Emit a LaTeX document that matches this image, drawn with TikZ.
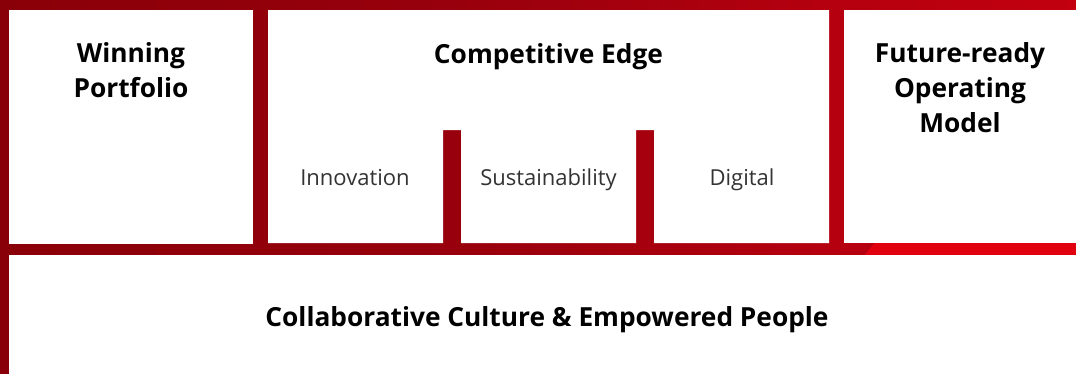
\documentclass[tikz,border=0pt]{standalone}
\usepackage{fontspec}
\setmainfont{Open Sans}

\definecolor{redA}{HTML}{8A0008}
\definecolor{redB}{HTML}{97000C}
\definecolor{redC}{HTML}{B5000F}
\definecolor{redD}{HTML}{C2000F}
\definecolor{redBright}{HTML}{E0000F}
\definecolor{subgray}{HTML}{333333}

% horizontal crimson band; 25bp..75bp spans the filled path
\pgfdeclarehorizontalshading{crimson}{100bp}{%
  color(0bp)=(redA); color(25bp)=(redA); color(45.9bp)=(redB);
  color(63.6bp)=(redC); color(75bp)=(redD); color(100bp)=(redD)}

\tikzset{
  panel/.style={fill=white},
  head/.style={font=\bfseries\fontsize{26.3}{35}\selectfont, text=black,
    align=center, anchor=base, inner sep=0pt},
  sub/.style={font=\fontsize{22}{28}\selectfont, text=subgray,
    anchor=base, inner sep=0pt}
}

\begin{document}
\begin{tikzpicture}[x=1pt,y=-1pt]
\useasboundingbox (0,0) rectangle (1076,373);

% red backdrop
\shade[shading=crimson] (0,0) rectangle (1076,373);
\fill[redBright] (909,200) -- (1076,200) -- (1076,373) -- (770,373) -- cycle;

% white panels
\fill[panel] (9,10) rectangle (253,244);
\fill[panel] (268,10) -- (829,10) -- (829,243) -- (654,243) -- (654,130)
  -- (636,130) -- (636,243) -- (461,243) -- (461,130) -- (443,130)
  -- (443,243) -- (268,243) -- cycle;
\fill[panel] (844,10) rectangle (1080,243);
\fill[panel] (9,255) rectangle (1080,377);

% headings (base anchor sits on the last line)
\node[head] (portfolio) at (131,97) {Winning\\Portfolio};
\node[head] (edge) at (548.5,63) {Competitive Edge};
\node[head] (model) at (960,132) {Future-ready\\Operating\\Model};
\node[head] (culture) at (547,326) {Collaborative Culture \& Empowered People};

% competitive edge pillars
\node[sub] (innovation) at (355,185) {Innovation};
\node[sub] (sustainability) at (548.5,185) {Sustainability};
\node[sub] (digital) at (742,185) {Digital};
\end{tikzpicture}
\end{document}
